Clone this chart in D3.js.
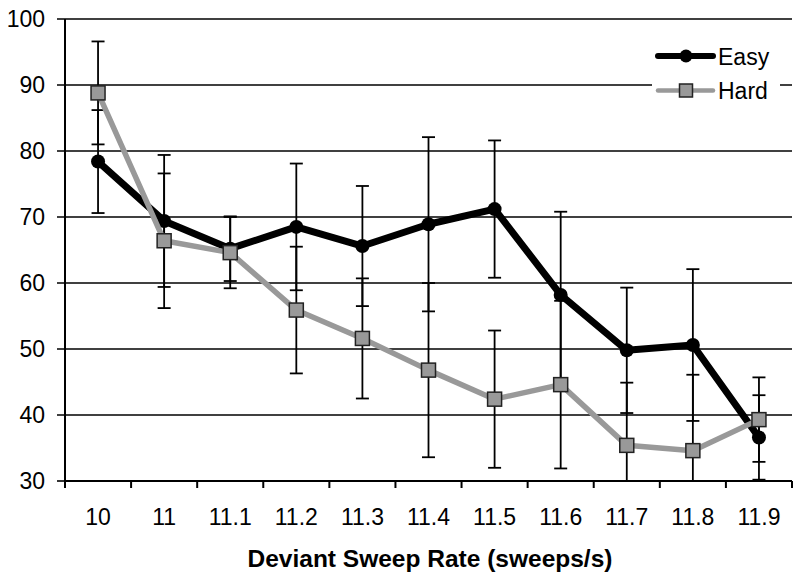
<!DOCTYPE html>
<html>
<head>
<meta charset="UTF-8" />
<title>sweep rate</title>
<style>
  body { margin: 0; padding: 0; background: #fff; }
  svg { display: block; font-family: 'Liberation Sans', Arial, sans-serif; }
</style>
</head>
<body>
<div class="container"></div>
<script src="https://cdnjs.cloudflare.com/ajax/libs/d3/7.8.5/d3.min.js"></script>
<script>
  // values
  const categories = ['10', '11', '11.1', '11.2', '11.3', '11.4', '11.5', '11.6', '11.7', '11.8', '11.9']
  const easy = [78.4, 69.4, 65.2, 68.5, 65.6, 68.9, 71.2, 58.2, 49.8, 50.6, 36.6]
  const easyErr = [7.8, 10.0, 4.9, 9.6, 9.1, 13.2, 10.4, 12.6, 9.5, 11.5, 6.4]
  const hard = [88.8, 66.4, 64.6, 55.9, 51.6, 46.8, 42.4, 44.6, 35.4, 34.6, 39.3]
  const hardErr = [7.8, 10.2, 5.4, 9.6, 9.1, 13.2, 10.4, 12.7, 9.5, 11.5, 6.4]
  const yTicks = [30, 40, 50, 60, 70, 80, 90, 100]
  const xTitle = 'Deviant Sweep Rate (sweeps/s)'

  const width = 800
  const height = 578
  const margin = { top: 19, right: 8, bottom: 97, left: 65 }

  const svg = d3.select('.container').append('svg')
    .attr('width', width)
    .attr('height', height)

  const x = d3.scaleBand().domain(categories).range([margin.left, width - margin.right]).padding(0)
  const y = d3.scaleLinear().domain([30, 100]).range([height - margin.bottom, margin.top])
  const cx = c => x(c) + x.bandwidth() / 2

  svg.append('defs').append('clipPath').attr('id', 'plot')
    .append('rect')
    .attr('x', margin.left).attr('y', margin.top - 1)
    .attr('width', width - margin.right - margin.left)
    .attr('height', y(30) - margin.top + 1)

  // gridlines + y ticks
  svg.append('g')
    .selectAll('line')
    .data(yTicks)
    .join('line')
    .attr('x1', margin.left - 8)
    .attr('x2', d => d === 30 ? margin.left : width - margin.right)
    .attr('y1', d => y(d)).attr('y2', d => y(d))
    .attr('stroke', '#000').attr('stroke-width', 1.6)

  svg.append('g')
    .selectAll('text')
    .data(yTicks)
    .join('text')
    .attr('x', 45)
    .attr('y', d => y(d) + 8.3)
    .attr('text-anchor', 'end')
    .attr('font-size', 23)
    .text(d => d)

  // axes lines
  svg.append('line')
    .attr('x1', margin.left).attr('x2', margin.left)
    .attr('y1', margin.top).attr('y2', y(30))
    .attr('stroke', '#000').attr('stroke-width', 2)
  svg.append('line')
    .attr('x1', margin.left).attr('x2', width - margin.right)
    .attr('y1', y(30)).attr('y2', y(30))
    .attr('stroke', '#000').attr('stroke-width', 2)

  // x ticks at category boundaries
  const bounds = categories.map(c => x(c)).concat([x(categories[categories.length - 1]) + x.bandwidth()])
  svg.append('g')
    .selectAll('line')
    .data(bounds)
    .join('line')
    .attr('x1', d => d).attr('x2', d => d)
    .attr('y1', y(30)).attr('y2', y(30) + 7)
    .attr('stroke', '#000').attr('stroke-width', 2)

  svg.append('g')
    .selectAll('text')
    .data(categories)
    .join('text')
    .attr('x', d => cx(d))
    .attr('y', 525)
    .attr('text-anchor', 'middle')
    .attr('font-size', 23)
    .text(d => d)

  svg.append('text')
    .attr('x', 430)
    .attr('y', 567)
    .attr('text-anchor', 'middle')
    .attr('font-size', 24.5)
    .attr('font-weight', 'bold')
    .text(xTitle)

  const plot = svg.append('g').attr('clip-path', 'url(#plot)')

  const series = [
    { name: 'Easy', vals: easy, errs: easyErr, color: '#000', lw: 7 },
    { name: 'Hard', vals: hard, errs: hardErr, color: '#999', lw: 5.5 }
  ]

  // error bars
  series.forEach(s => {
    const g = plot.append('g').attr('stroke', '#000').attr('stroke-width', 1.8)
    categories.forEach((c, i) => {
      const lo = s.vals[i] - s.errs[i]
      const hi = s.vals[i] + s.errs[i]
      g.append('line').attr('x1', cx(c)).attr('x2', cx(c)).attr('y1', y(lo)).attr('y2', y(hi))
      g.append('line').attr('x1', cx(c) - 6.5).attr('x2', cx(c) + 6.5).attr('y1', y(hi)).attr('y2', y(hi))
      if (lo > 30) g.append('line').attr('x1', cx(c) - 6.5).attr('x2', cx(c) + 6.5).attr('y1', y(lo)).attr('y2', y(lo))
    })
  })

  const line = d3.line().x((d, i) => cx(categories[i])).y(d => y(d))

  series.forEach(s => {
    plot.append('path')
      .attr('d', line(s.vals))
      .attr('fill', 'none')
      .attr('stroke', s.color)
      .attr('stroke-width', s.lw)
      .attr('stroke-linejoin', 'round')
    if (s.name === 'Easy') {
      plot.append('g').selectAll('circle')
        .data(s.vals)
        .join('circle')
        .attr('cx', (d, i) => cx(categories[i]))
        .attr('cy', d => y(d))
        .attr('r', 7)
        .attr('fill', '#000')
    } else {
      plot.append('g').selectAll('rect')
        .data(s.vals)
        .join('rect')
        .attr('x', (d, i) => cx(categories[i]) - 7)
        .attr('y', d => y(d) - 7)
        .attr('width', 14).attr('height', 14)
        .attr('fill', '#999')
        .attr('stroke', '#222').attr('stroke-width', 1.5)
    }
  })

  // legend
  const legend = svg.append('g')
  legend.append('rect').attr('x', 652).attr('y', 36).attr('width', 128).attr('height', 76).attr('fill', '#fff')
  series.forEach((s, i) => {
    const ly = 56 + i * 34.5
    legend.append('line')
      .attr('x1', 658).attr('x2', 713).attr('y1', ly).attr('y2', ly)
      .attr('stroke', s.color).attr('stroke-width', s.lw - 1).attr('stroke-linecap', 'round')
    if (s.name === 'Easy') {
      legend.append('circle').attr('cx', 686).attr('cy', ly).attr('r', 6.5).attr('fill', '#000')
    } else {
      legend.append('rect').attr('x', 679.5).attr('y', ly - 6.5).attr('width', 13).attr('height', 13)
        .attr('fill', '#999').attr('stroke', '#222').attr('stroke-width', 1.5)
    }
    legend.append('text').attr('x', 718).attr('y', ly + 8.5).attr('font-size', 23).text(s.name)
  })
</script>
</body>
</html>
